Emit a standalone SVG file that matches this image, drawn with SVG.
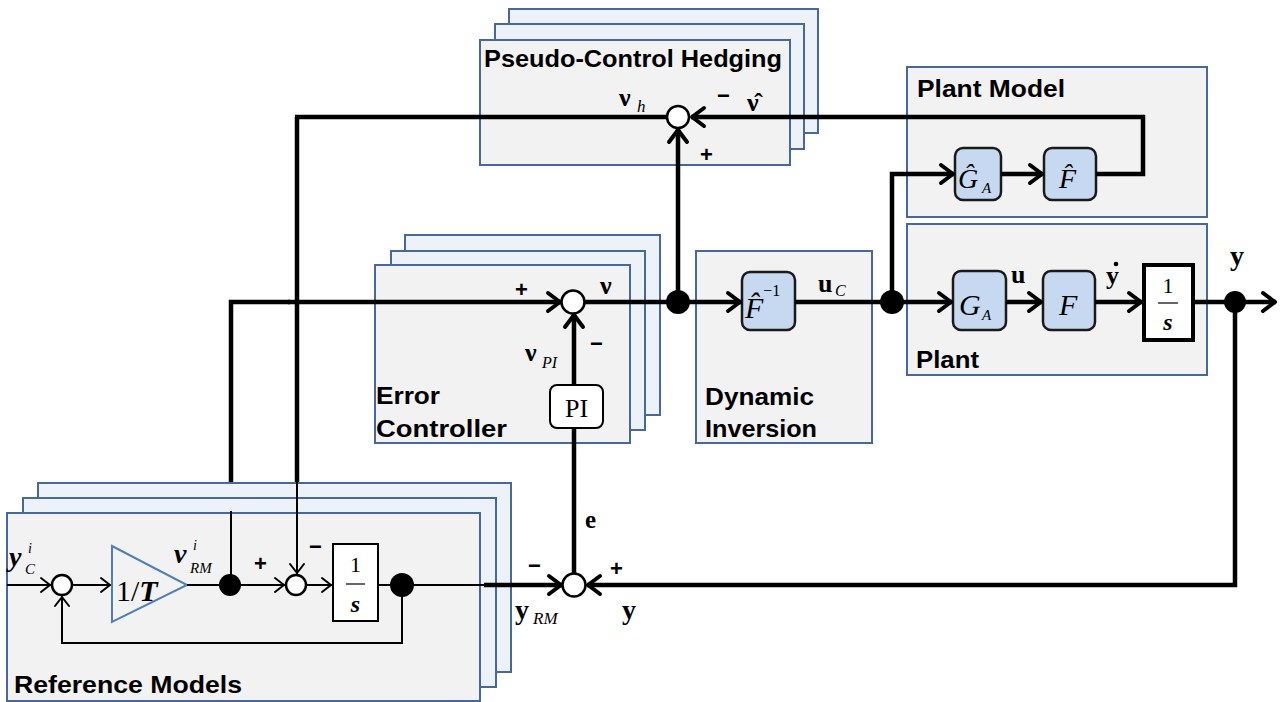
<svg xmlns="http://www.w3.org/2000/svg" width="1280" height="702" viewBox="0 0 1280 702">
<defs>
<style>
.bk{fill:#edf2f9;stroke:#46689a;stroke-width:2}
.fr{fill:#f2f2f2;stroke:#46689a;stroke-width:2}
.blk{fill:#c6d9f1;stroke:#1a1a1a;stroke-width:2.5}
.w{fill:none;stroke:#000;stroke-width:4.5;stroke-linejoin:miter}
.t{fill:none;stroke:#000;stroke-width:2}
.sum{fill:#fff;stroke:#000;stroke-width:2.5}
.dot{fill:#000}
.lbl{font-family:"Liberation Sans",Arial,sans-serif;font-weight:bold;font-size:24px;fill:#000}
.m{font-family:"Liberation Serif","Times New Roman",serif;fill:#000}
.mb{font-family:"Liberation Serif","Times New Roman",serif;font-weight:bold;fill:#000}
.sg{font-family:"Liberation Sans",Arial,sans-serif;font-weight:bold;font-size:22px;fill:#000}
</style>
<marker id="ah" markerUnits="userSpaceOnUse" markerWidth="30" markerHeight="30" viewBox="-15 -15 30 30" refX="0" refY="0" orient="auto" overflow="visible">
<path d="M-13,-9 L-1,0 L-13,9" fill="none" stroke="#000" stroke-width="4" stroke-linecap="round" stroke-linejoin="round"/>
</marker>
<marker id="ahs" markerUnits="userSpaceOnUse" markerWidth="24" markerHeight="24" viewBox="-12 -12 24 24" refX="0" refY="0" orient="auto" overflow="visible">
<path d="M-10,-7 L-1,0 L-10,7" fill="none" stroke="#000" stroke-width="2" stroke-linecap="round" stroke-linejoin="round"/>
</marker>
</defs>
<rect width="1280" height="702" fill="#fff"/>

<g id="under">
<polyline class="w" points="297,117 297,483"/>
<polyline class="w" points="231,513 231,302 290,302"/>
</g>

<g id="pch">
<rect class="bk" x="509" y="9" width="309" height="124"/>
<rect class="bk" x="495" y="24" width="309" height="125"/>
<rect class="fr" x="480" y="40" width="310" height="125"/>
<text class="lbl" x="484" y="67" textLength="298" lengthAdjust="spacingAndGlyphs">Pseudo-Control Hedging</text>
</g>

<g id="plantmodel">
<rect class="fr" x="907" y="67" width="300" height="150"/>
<text class="lbl" x="917" y="97" textLength="148" lengthAdjust="spacingAndGlyphs">Plant Model</text>
<rect class="blk" x="955" y="148" width="46" height="52" rx="8"/>
<text class="m" x="958" y="188" font-size="28" font-style="italic">Ĝ</text>
<text class="m" x="982" y="193" font-size="15" font-style="italic">A</text>
<rect class="blk" x="1044" y="148" width="52" height="52" rx="8"/>
<text class="m" x="1059" y="188" font-size="28" font-style="italic">F̂</text>
</g>

<g id="plant">
<rect class="fr" x="907" y="224" width="300" height="151"/>
<text class="lbl" x="916" y="368" textLength="63" lengthAdjust="spacingAndGlyphs">Plant</text>
<rect class="blk" x="953" y="271" width="53" height="59" rx="8"/>
<text class="m" x="959" y="315" font-size="30" font-style="italic">G</text>
<text class="m" x="982" y="320" font-size="15" font-style="italic">A</text>
<rect class="blk" x="1043" y="271" width="52" height="59" rx="8"/>
<text class="m" x="1059" y="315" font-size="30" font-style="italic">F</text>
<rect x="1144" y="265" width="49" height="75" fill="#fff" stroke="#000" stroke-width="4"/>
<text class="m" x="1168" y="293" font-size="22" text-anchor="middle">1</text>
<line x1="1158" y1="303" x2="1178" y2="303" stroke="#000" stroke-width="1.2"/>
<text class="m" x="1168" y="330" font-size="24" font-style="italic" font-weight="bold" text-anchor="middle">s</text>
</g>

<g id="ec">
<rect class="bk" x="405" y="235" width="255" height="180"/>
<rect class="bk" x="391" y="251" width="254" height="179"/>
<rect class="fr" x="375" y="265" width="255" height="178"/>
<text class="lbl" x="376" y="404" textLength="64" lengthAdjust="spacingAndGlyphs">Error</text>
<text class="lbl" x="376" y="437" textLength="131" lengthAdjust="spacingAndGlyphs">Controller</text>
<rect x="550" y="385" width="53" height="43" rx="7" fill="#fff" stroke="#000" stroke-width="2"/>
<text class="m" x="576.5" y="417" font-size="26" text-anchor="middle">PI</text>
</g>

<g id="di">
<rect class="fr" x="696" y="251" width="176" height="192"/>
<text class="lbl" x="705" y="405" textLength="109" lengthAdjust="spacingAndGlyphs">Dynamic</text>
<text class="lbl" x="705" y="437" textLength="112" lengthAdjust="spacingAndGlyphs">Inversion</text>
<rect class="blk" x="742" y="272" width="53" height="58" rx="8"/>
<text class="m" x="745" y="318" font-size="30" font-style="italic">F̂<tspan font-style="normal" font-size="16" dy="-22">−1</tspan></text>
</g>

<g id="ref">
<rect class="bk" x="38" y="483" width="473" height="189"/>
<rect class="bk" x="23" y="498" width="473" height="189"/>
<rect class="fr" x="7" y="513" width="473" height="188"/>
<text class="lbl" x="14" y="693" textLength="228" lengthAdjust="spacingAndGlyphs">Reference Models</text>
<polygon points="112,546 187,585 112,622" fill="none" stroke="#4f7fb8" stroke-width="2"/>
<text class="m" x="116" y="601" font-size="30">1/<tspan font-style="italic" font-weight="bold">T</tspan></text>
<rect x="333" y="544" width="45" height="77" fill="#fff" stroke="#000" stroke-width="2"/>
<text class="m" x="355.5" y="572" font-size="22" text-anchor="middle">1</text>
<line x1="346" y1="584" x2="365" y2="584" stroke="#000" stroke-width="1.2"/>
<text class="m" x="355.5" y="612" font-size="24" font-style="italic" font-weight="bold" text-anchor="middle">s</text>
</g>

<g id="connectors">
<line class="t" x1="7" y1="585" x2="51" y2="585" marker-end="url(#ahs)"/>
<line class="t" x1="72" y1="585" x2="111" y2="585" marker-end="url(#ahs)"/>
<line class="t" x1="187" y1="585" x2="230" y2="585"/>
<line class="t" x1="230" y1="585" x2="285" y2="585" marker-end="url(#ahs)"/>
<line class="t" x1="306" y1="585" x2="332" y2="585" marker-end="url(#ahs)"/>
<line class="t" x1="378" y1="585" x2="402" y2="585"/>
<line class="t" x1="402" y1="585" x2="486" y2="585"/>
<polyline class="t" points="402,585 402,643 62,643 62,596" marker-end="url(#ahs)"/>
<line class="t" x1="297" y1="481" x2="297" y2="574" marker-end="url(#ahs)"/>
<line class="t" x1="231" y1="511" x2="231" y2="585"/>
<line class="w" x1="484" y1="585" x2="562" y2="585" marker-end="url(#ah)"/>
<polyline class="w" points="1235,302 1235,585 587,585" marker-end="url(#ah)"/>
<line class="w" x1="574" y1="574" x2="574" y2="428"/>
<line class="w" x1="574" y1="385" x2="574" y2="314" marker-end="url(#ah)"/>
<line class="w" x1="288" y1="302" x2="561" y2="302" marker-end="url(#ah)"/>
<line class="w" x1="585" y1="302" x2="678" y2="302"/>
<line class="w" x1="678" y1="302" x2="678" y2="129" marker-end="url(#ah)"/>
<line class="w" x1="667" y1="117" x2="295" y2="117"/>
<line class="w" x1="678" y1="302" x2="741" y2="302" marker-end="url(#ah)"/>
<line class="w" x1="795" y1="302" x2="892" y2="302"/>
<line class="w" x1="892" y1="302" x2="952" y2="302" marker-end="url(#ah)"/>
<line class="w" x1="1006" y1="302" x2="1042" y2="302" marker-end="url(#ah)"/>
<line class="w" x1="1095" y1="302" x2="1142" y2="302" marker-end="url(#ah)"/>
<line class="w" x1="1193" y1="302" x2="1276" y2="302" marker-end="url(#ah)"/>
<polyline class="w" points="892,302 892,174 954,174" marker-end="url(#ah)"/>
<line class="w" x1="1001" y1="174" x2="1043" y2="174" marker-end="url(#ah)"/>
<polyline class="w" points="1096,174 1143,174 1143,117 691,117" marker-end="url(#ah)"/>
</g>

<g id="junctions">
<circle class="sum" cx="678" cy="117" r="11"/>
<circle class="sum" cx="573" cy="302" r="11.5"/>
<circle class="sum" cx="574" cy="585" r="11.5"/>
<circle class="sum" cx="62" cy="585" r="10"/>
<circle class="sum" cx="296" cy="585" r="10"/>
<circle class="dot" cx="230" cy="585" r="11"/>
<circle class="dot" cx="402" cy="585" r="12"/>
<circle class="dot" cx="678" cy="302" r="12"/>
<circle class="dot" cx="892" cy="302" r="12"/>
<circle class="dot" cx="1235" cy="302" r="11"/>
</g>

<g id="labels">
<text class="mb" x="619" y="106" font-size="26">ν</text>
<text class="m" x="637" y="112" font-size="17" font-style="italic">h</text>
<text class="sg" x="717" y="103">−</text>
<text class="mb" x="747" y="111" font-size="26">ν̂</text>
<text class="sg" x="700" y="162">+</text>
<text class="sg" x="515" y="297">+</text>
<text class="mb" x="600" y="294" font-size="26">ν</text>
<text class="sg" x="590" y="351">−</text>
<text class="mb" x="525" y="361" font-size="26">ν</text>
<text class="m" x="542" y="368" font-size="16" font-style="italic">PI</text>
<text class="mb" x="818" y="292" font-size="26">u</text>
<text class="m" x="835" y="296" font-size="16" font-style="italic">C</text>
<text class="mb" x="1011" y="283" font-size="26">u</text>
<text class="mb" x="1106" y="284" font-size="26">y</text>
<circle cx="1116" cy="264" r="2.3" fill="#000"/>
<text class="mb" x="1230" y="265" font-size="28">y</text>
<text class="mb" x="585" y="528" font-size="25">e</text>
<text class="sg" x="528" y="573">−</text>
<text class="sg" x="610" y="576">+</text>
<text class="mb" x="515" y="619" font-size="28">y</text>
<text class="m" x="533" y="624" font-size="17" font-style="italic">RM</text>
<text class="mb" x="622" y="619" font-size="28">y</text>
<text class="mb" x="9" y="566" font-size="28" font-style="italic">y</text>
<text class="m" x="28" y="553" font-size="14" font-style="italic">i</text>
<text class="m" x="25" y="574" font-size="15" font-style="italic">C</text>
<text class="mb" x="174" y="563" font-size="28" font-style="italic">ν</text>
<text class="m" x="193" y="550" font-size="14" font-style="italic">i</text>
<text class="m" x="190" y="573" font-size="15" font-style="italic">RM</text>
<text class="sg" x="254" y="571">+</text>
<text class="sg" x="309" y="554">−</text>
</g>
</svg>
